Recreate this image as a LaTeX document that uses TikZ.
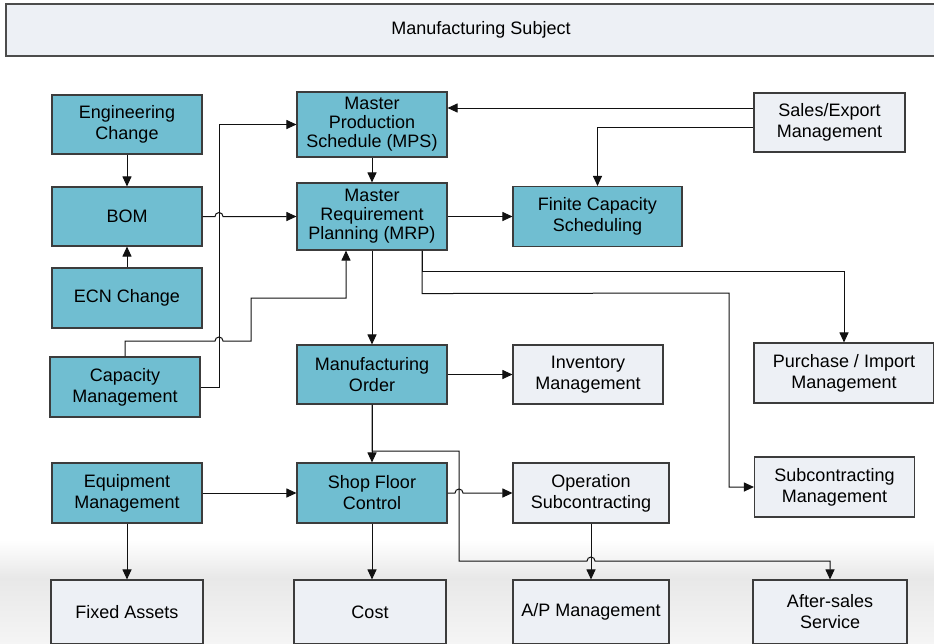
\documentclass[tikz,border=0pt]{standalone}
\usepackage{fontspec}
\setmainfont{Liberation Sans}
\usetikzlibrary{arrows.meta,calc}
\definecolor{boxteal}{HTML}{70BED1}
\definecolor{boxlight}{HTML}{EDF0F5}
\definecolor{boxline}{HTML}{3C3C3C}
\definecolor{lineblack}{HTML}{111111}
\begin{document}
\begin{tikzpicture}[x=1pt,y=-1pt,
  box/.style={draw=boxline, line width=1.1pt, align=center, inner sep=0pt, font=\fontsize{18}{21}\selectfont},
  tight/.style={font=\fontsize{18}{19}\selectfont},
  tealbox/.style={box, fill=boxteal},
  lightbox/.style={box, fill=boxlight},
  conn/.style={draw=lineblack, line width=1pt},
  arr/.style={conn, -{Triangle[length=10pt,width=9pt]}},
  ]
\clip (0,0) rectangle (934,643);
\fill[white] (0,0) rectangle (934,643);
\shade[top color=white, bottom color=black!9] (0,540) rectangle (934,578);
\shade[top color=black!9, bottom color=black!4] (0,578) rectangle (934,643);

% title
\node[box, draw=black!70, fill=boxlight, minimum width=950pt, minimum height=52pt] (title) at (481,30) {Manufacturing Subject\vphantom{M}};

% teal boxes
\node[tealbox, minimum width=150pt, minimum height=59pt] (eng) at (127,124.5) {Engineering\\Change};
\node[tealbox, minimum width=150pt, minimum height=59pt] (bom) at (127,216.5) {BOM};
\node[tealbox, minimum width=150pt, minimum height=60pt] (ecn) at (127,298) {ECN Change};
\node[tealbox, tight, minimum width=150pt, minimum height=65pt] (mps) at (372,124.5) {Master\\Production\\Schedule (MPS)};
\node[tealbox, tight, minimum width=150pt, minimum height=67pt] (mrp) at (372,216.5) {Master\\Requirement\\Planning (MRP)};
\node[tealbox, minimum width=169pt, minimum height=60pt] (fcs) at (597.5,216.5) {Finite Capacity\\Scheduling};
\node[tealbox, minimum width=150pt, minimum height=60pt] (cap) at (125,387) {Capacity\\Management};
\node[tealbox, minimum width=150pt, minimum height=59pt] (mo) at (372,374.5) {Manufacturing\\Order};
\node[tealbox, minimum width=150pt, minimum height=60pt] (equ) at (127,493) {Equipment\\Management};
\node[tealbox, minimum width=150pt, minimum height=60pt] (sfc) at (372,493) {Shop Floor\\Control};

% light boxes
\node[lightbox, minimum width=151pt, minimum height=59pt] (sales) at (829.5,122.5) {Sales/Export\\Management};
\node[lightbox, minimum width=150pt, minimum height=59pt] (inv) at (588,374.5) {Inventory\\Management};
\node[lightbox, minimum width=156pt, minimum height=60pt] (opsub) at (591,493) {Operation\\Subcontracting};
\node[lightbox, minimum width=180pt, minimum height=60pt] (pur) at (844,373) {Purchase / Import\\Management};
\node[lightbox, minimum width=160pt, minimum height=60pt] (sub) at (834.5,487) {Subcontracting\\Management};
\node[lightbox, minimum width=152pt, minimum height=64pt] (fixed) at (127,612) {Fixed Assets};
\node[lightbox, minimum width=152pt, minimum height=64pt] (cost) at (370,612) {Cost};
\node[lightbox, minimum width=156pt, minimum height=64pt] (ap) at (591,612) {A/P Management};
\node[lightbox, minimum width=154pt, minimum height=64pt] (after) at (830,612) {After-sales\\Service};

% connectors
\draw[arr] (eng.south) -- (bom.north);
\draw[arr] (ecn.north) -- (bom.south);
\draw[arr] (mps.south) -- (mrp.north);
\draw[arr] (bom.east) -- (215,216.5) arc[start angle=180, end angle=0, radius=4pt] -- (mrp.west);
\draw[arr] (cap.east) -- ++(19,0) |- (mps.west);
\draw[arr] (cap.north) -- (125,341) -- (215,341) arc[start angle=180, end angle=0, radius=4pt] -- (251,341) -- (251,298) -| ($(mrp.south)+(-26,0)$);
\coordinate (s1) at ($(sales.west)+(0,-14.5)$);
\draw[arr] (s1) -- (s1 -| mps.east);
\draw[arr] ($(sales.west)+(0,4.5)$) -| (fcs.north);
\draw[arr] (mrp.east) -- (mrp.east -| fcs.west);
\draw[arr] (mrp.south) -- (mo.north);
\coordinate (m1) at ($(mrp.south)+(50,0)$);
\draw[arr] (m1) -- ($(m1)+(0,21)$) -| (pur.north);
\draw[arr] (m1) -- ($(m1)+(0,43)$) -- (729,293) |- (sub.west);
\draw[arr] (mo.east) -- (mo.east -| inv.west);
\draw[arr] (mo.south) -- (sfc.north);
\draw[arr] (mo.south) -- (372,451) -- (459,451) -- (459,561) -- (587,561) arc[start angle=180, end angle=0, radius=4pt] -| (after.north);
\draw[arr] (equ.east) -- (sfc.west);
\draw[arr] (sfc.east) -- (455,493) arc[start angle=180, end angle=0, radius=4pt] -- (opsub.west);
\draw[arr] (equ.south) -- (fixed.north);
\draw[arr] (sfc.south) -- (sfc.south |- cost.north);
\draw[arr] (opsub.south) -- (ap.north);
\end{tikzpicture}
\end{document}
